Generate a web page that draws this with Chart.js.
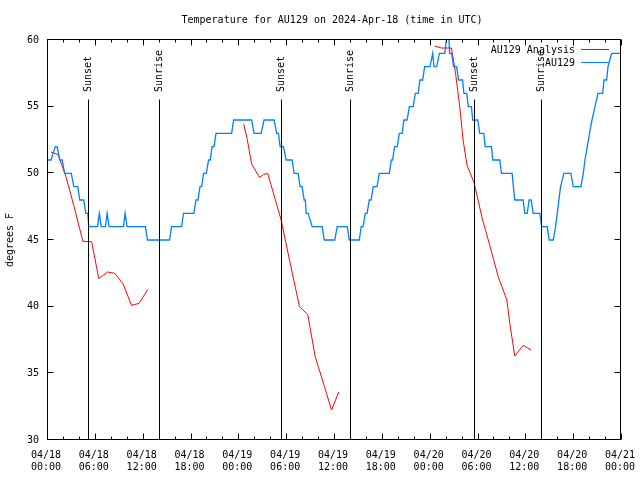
<!DOCTYPE html>
<html>
<head>
<meta charset="utf-8">
<script src="https://cdn.jsdelivr.net/npm/chart.js@4.4.1/dist/chart.umd.min.js"></script>
<style>
html,body{margin:0;padding:0;background:#fff;}
#c{display:block;}
</style>
</head>
<body>
<canvas id="c" width="640" height="480"></canvas>
<script>
// ---- data (hours since 04/18 00:00 UTC, degrees F) ----
const titleText = 'Temperature for AU129 on 2024-Apr-18 (time in UTC)';
const yAxisTitle = 'degrees F';

const blueHours = [0.0,0.5,1.04,1.26,1.6,1.9,2.22,3.05,3.36,3.86,4.11,4.61,4.86,5.12,5.24,6.32,6.57,6.79,7.33,7.54,7.79,9.59,9.8,10.05,12.35,12.6,
  15.37,15.62,16.88,17.13,18.43,18.69,18.94,19.19,19.4,19.64,19.98,20.27,20.48,20.7,20.95,21.2,23.16,23.41,25.67,25.97,26.85,27.23,28.49,
  28.81,29.03,29.24,29.66,29.99,30.75,31.0,31.5,31.75,32.0,32.26,32.4,32.51,32.76,33.26,34.52,34.77,36.1,36.4,37.66,37.91,39.17,
  39.42,39.65,39.92,40.15,40.42,40.65,40.93,41.4,41.68,42.94,43.19,43.35,43.6,43.94,44.19,44.55,44.77,45.17,45.45,45.93,46.2,46.56,
  46.78,47.12,47.37,48.04,48.38,48.54,48.88,49.22,49.89,50.1,50.2,50.35,50.5,50.76,51.0,51.38,51.63,52.13,52.3,52.65,52.84,53.24,
  53.4,54.03,54.28,54.79,54.97,55.75,55.92,56.8,57.01,58.34,58.5,58.68,59.72,59.94,60.23,60.48,60.73,60.98,61.82,62.04,62.74,62.99,
  63.5,63.8,64.0,64.21,64.42,64.84,65.72,66.01,66.98,67.27,67.48,67.77,68.05,68.36,68.74,69.11,69.7,69.87,70.2,70.37,70.83,71.88];
const blueTemps = [51,51,52,52,51,51,50,50,49,49,48,48,47,47,46,46,47,46,46,47,46,46,47,46,46,45,
  45,46,46,47,47,48,48,49,49,50,50,51,51,52,52,53,53,54,54,53,53,54,54,
  53,53,52,52,51,51,50,50,49,49,48,48,47,47,46,46,45,45,46,46,45,45,
  46,46,47,47,48,48,49,49,50,50,51,51,52,52,53,53,54,54,55,55,56,56,
  57,57,58,58,59,58,58,59,59,60,61,61,59,59,58,58,57,57,56,56,55,55,
  54,54,53,53,52,52,51,51,50,50,49,48,48,47,47,48,48,47,47,46,46,45,
  45,46,47,48,49,50,50,49,49,50,51,52,53,54,55,56,56,57,57,58,59,59];

const redHours = [0.5,1.0,1.4,2.4,3.4,4.5,5.6,6.5,7.6,8.5,9.55,10.6,11.56,12.65, 18,
  24.67,25.1,25.67,26.64,27.14,27.68,29.37,30.4,31.67,32.71,33.64,34.81,35.69,36.6, 42,
  48.63,49.47,50.73,51.25,51.77,52.19,52.69,53.57,54.6,55.7,56.6,57.68,58.05,58.68,59.73,60.73];
const redTemps = [51.6,51.5,51.4,49.7,47.5,44.9,44.87,42.1,42.6,42.5,41.7,40.1,40.25,41.3, null,
  53.7,52.6,50.7,49.7,49.9,50.0,46.5,43.55,40.0,39.4,36.25,34.0,32.25,33.6, null,
  59.55,59.4,59.4,57.5,55.0,52.5,50.6,49.3,46.6,44.25,42.25,40.5,38.75,36.3,37.1,36.75];

const eventHours = [5.19,13.99,29.32,37.99,53.57,61.95];
const eventLabels = ['Sunset','Sunrise','Sunset','Sunrise','Sunset','Sunrise'];

const xTickHours = [0,6,12,18,24,30,36,42,48,54,60,66,72];
const dateLabels = ['04/18','04/18','04/18','04/18','04/19','04/19','04/19','04/19','04/20','04/20','04/20','04/20','04/21'];
const timeLabels = ['00:00','06:00','12:00','18:00','00:00','06:00','12:00','18:00','00:00','06:00','12:00','18:00','00:00'];

const seriesNames = ['AU129 Analysis','AU129'];
const seriesColors = ['#ff0000','#0080ff'];

// ---- build ----
const FONT = '"DejaVu Sans Mono", "Liberation Mono", monospace';
const redData = redHours.map((h,i)=>({x:h,y:redTemps[i]}));
const blueData = blueHours.map((h,i)=>({x:h,y:blueTemps[i]}));

const overlay = {
  id: 'overlay',
  afterDatasetsDraw(chart) {
    const {ctx, chartArea:a, scales:{x,y}} = chart;
    ctx.save();
    ctx.strokeStyle = '#000';
    ctx.lineWidth = 1;
    ctx.fillStyle = '#000';
    ctx.font = '10px ' + FONT;
    // event lines
    eventHours.forEach((h,i)=>{
      const px = Math.round(x.getPixelForValue(h)) + 0.5;
      ctx.beginPath();
      ctx.moveTo(px, a.top + 59.5);
      ctx.lineTo(px, a.bottom);
      ctx.stroke();
      ctx.save();
      ctx.translate(px, a.top + 52);
      ctx.rotate(-Math.PI/2);
      ctx.textAlign = 'left';
      ctx.textBaseline = 'middle';
      ctx.fillText(eventLabels[i], 0, 0);
      ctx.restore();
    });
    // frame
    const L = a.left + 0.5, R = a.right - 0.5, T = a.top - 0.5, B = a.bottom - 0.5;
    ctx.strokeRect(L, T, R - L, B - T);
    // x ticks (inward, mirrored)
    for (let h = 0; h <= 72; h += 2) {
      const px = Math.round(x.getPixelForValue(h)) + 0.5;
      const len = (h % 6 === 0) ? 6 : 3;
      ctx.beginPath();
      ctx.moveTo(px, B); ctx.lineTo(px, B - len);
      ctx.moveTo(px, T); ctx.lineTo(px, T + len);
      ctx.stroke();
    }
    // y ticks
    for (let v = 30; v <= 60; v += 5) {
      const py = Math.round(y.getPixelForValue(v)) - 0.5;
      ctx.beginPath();
      ctx.moveTo(L, py); ctx.lineTo(L + 6, py);
      ctx.moveTo(R, py); ctx.lineTo(R - 6, py);
      ctx.stroke();
    }
    // legend
    ctx.textAlign = 'right';
    ctx.textBaseline = 'middle';
    seriesNames.forEach((n,i)=>{
      const ty = a.top + 10 + i*13;
      ctx.fillStyle = '#000';
      ctx.fillText(n, a.right - 46, ty);
      ctx.strokeStyle = seriesColors[i];
      ctx.beginPath();
      ctx.moveTo(a.right - 40, ty - 0.5);
      ctx.lineTo(a.right - 12, ty - 0.5);
      ctx.stroke();
    });
    // title
    ctx.fillStyle = '#000';
    ctx.textAlign = 'center';
    ctx.textBaseline = 'middle';
    ctx.fillText(titleText, (a.left + a.right)/2 - 2, 20);
    // y axis title
    ctx.save();
    ctx.translate(10, (a.top + a.bottom)/2);
    ctx.rotate(-Math.PI/2);
    ctx.fillText(yAxisTitle, 0, 0);
    ctx.restore();
    ctx.restore();
  }
};

new Chart(document.getElementById('c'), {
  type: 'line',
  data: {
    datasets: [
      { label: seriesNames[1], data: blueData, borderColor: seriesColors[1], borderWidth: 1.3, pointRadius: 0, tension: 0, fill: false },
      { label: seriesNames[0], data: redData, borderColor: seriesColors[0], borderWidth: 1, pointRadius: 0, tension: 0, fill: false, spanGaps: false }
    ]
  },
  options: {
    responsive: false,
    animation: false,
    devicePixelRatio: 1,
    layout: { padding: { top: 40, right: 19, left: 0, bottom: 0 } },
    plugins: { legend: { display: false }, title: { display: false }, tooltip: { enabled: false } },
    scales: {
      x: {
        type: 'linear', min: 0, max: 72,
        afterBuildTicks: s => { s.ticks = xTickHours.map(v => ({ value: v })); },
        grid: { display: false, drawTicks: false, tickLength: 0 },
        border: { display: false },
        ticks: {
          autoSkip: false, maxRotation: 0, minRotation: 0, padding: 9, labelOffset: -1,
          color: '#000', font: { family: FONT, size: 10, lineHeight: 1.24 },
          callback: (v, i) => [dateLabels[i], timeLabels[i]]
        },
        afterFit: s => { s.height = 40; s.paddingLeft = 0; s.paddingRight = 0; }
      },
      y: {
        min: 30, max: 60,
        grid: { display: false, drawTicks: false, tickLength: 0 },
        border: { display: false },
        ticks: { stepSize: 5, padding: 8, color: '#000', font: { family: FONT, size: 10 } },
        afterFit: s => { s.width = 47; s.paddingTop = 0; s.paddingBottom = 0; }
      }
    }
  },
  plugins: [overlay]
});
</script>
</body>
</html>
